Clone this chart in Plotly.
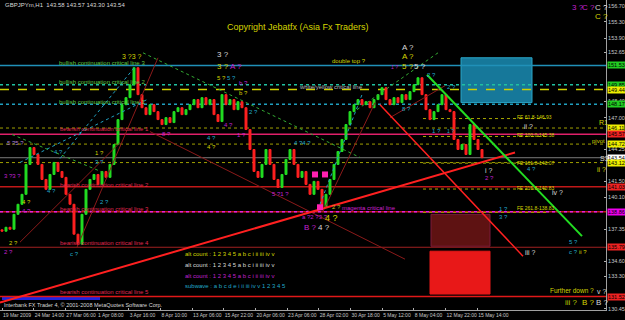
import plotly.graph_objects as go

# ---------------- data ----------------
first_open = 137.30
closes = [137.18, 137.52, 137.35, 138.64, 139.51, 140.37, 142.96, 144.42, 143.82, 142.96,
          141.66, 140.80, 142.09, 143.13, 142.35, 141.84, 140.37, 139.51, 136.92, 136.05,
          138.64, 140.80, 141.66, 142.09, 141.23, 142.35, 141.84, 142.96, 144.68, 146.84,
          148.13, 148.74, 149.86, 151.33, 149.00, 147.87, 147.27, 148.13, 147.53, 146.84,
          146.41, 147.01, 146.58, 147.53, 147.87, 147.27, 147.70, 148.13, 148.57, 147.87,
          148.74, 148.13, 148.57, 147.27, 146.67, 149.00, 148.13, 148.57, 147.70, 148.39,
          147.87, 145.98, 144.25, 142.35, 141.84, 142.96, 144.25, 142.96, 141.66, 140.97,
          142.09, 143.39, 144.25, 142.96, 141.84, 142.35, 141.23, 140.37, 141.49, 140.80,
          139.25, 140.37, 141.66, 142.96, 144.08, 145.12, 146.41, 147.53, 148.13, 148.57,
          148.13, 148.39, 147.87, 148.57, 149.00, 149.60, 148.57, 148.13, 148.74, 148.31,
          149.00, 148.57, 149.26, 149.86, 150.46, 149.00, 147.70, 146.84, 147.53, 148.13,
          149.00, 147.70, 147.53, 145.12, 144.25, 144.68, 143.82, 146.41, 145.12, 144.25,
          143.54]

date_tick_pos = [0, 7.92, 15.84, 23.76, 31.68, 39.6, 47.52, 55.44, 63.36, 71.28,
                 79.2, 87.12, 95.04, 102.96, 110.88, 118.8]
date_labels = ["19 Mar 2009", "24 Mar 14:00", "27 Mar 06:00", "1 Apr 08:00", "3 Apr 16:00",
               "8 Apr 10:00", "13 Apr 06:00", "15 Apr 22:00", "20 Apr 06:00", "23 Apr 06:00",
               "28 Apr 02:00", "30 Apr 18:00", "5 May 12:00", "8 May 04:00", "12 May 22:00",
               "15 May 14:00"]
price_ticks = [156.70, 155.30, 153.90, 152.65, 148.40, 147.00, 144.25, 141.50,
               140.10, 137.35, 134.60, 133.30, 130.45]

bull_levels = [151.53, 149.85, 148.17]
yellow_dash_level = 149.44
pivot_levels = [146.11, 144.72, 143.12]
current_price = 143.54
bear_levels = [145.57, 141.03, 138.86, 135.79, 131.52]
fe_levels = [146.93, 145.38, 143.07, 140.83, 138.81]
fe_names = ["FE 61.8-146.93", "FE 100.0-145.38", "FE 161.8-143.07", "FE 216.8-140.83", "FE 261.8-138.81"]
fe_span = [105.25, 136.5]

# trend lines: (x0, p0, x1, p1)
red_thick_line = [-0.5, 131.00, 128.25, 143.99]
red_down_line = [94.5, 148.13, 130.25, 135.02]
green_down_line = [106.25, 150.72, 145.0, 136.75]
darkred_lines = [[37.0, 145.80, 100.75, 134.76], [80.25, 138.90, 93.25, 148.31],
                 [18.75, 135.80, 39.0, 152.19], [4.5, 136.23, 29.5, 144.85],
                 [97.0, 147.01, 110.75, 149.77]]
green_dotted_lines = [[35.25, 152.62, 89.5, 143.56], [88.75, 147.70, 109.0, 152.62],
                      [2.5, 145.55, 25.25, 142.27]]
teal_dotted_lines = [[79.5, 139.51, 90.0, 149.00], [4.5, 143.13, 36.25, 148.57],
                     [14.5, 143.47, 33.25, 151.41]]

# zones: (x0, x1, p_low, p_high)
blue_zone = [114.75, 132.5, 148.31, 152.19]
darkred_zone = [107.25, 122.0, 135.88, 138.64]
red_zone = [107.0, 122.0, 131.74, 135.45]
blue_bar = [0.0, 24.5, 131.22, 131.48]
pink_x = [78.25, 80.75, 79.5]
pink_p = [142.09, 142.09, 139.25]

right_labels = [(151.53, "151.53", "#22cc22"), (149.85, "149.85", "#22cc22"),
                (149.44, "149.44", "#eeee00"), (148.17, "148.17", "#22cc22"),
                (146.11, "146.11", "#eeee00"), (145.57, "145.57", "#ee2222"),
                (144.72, "144.72", "#eeee00"), (143.54, "143.54", "#ffffff"),
                (143.12, "143.12", "#eeee00"), (141.03, "141.03", "#ee2222"),
                (138.86, "138.86", "#ee00ee"), (135.79, "135.79", "#ee2222"),
                (131.52, "131.52", "#ee2222")]

# ---------------- figure ----------------
FONT = "Liberation Sans, Arial, sans-serif"
X0, X1 = -0.5, 151.0
Y0, Y1 = 130.36, 157.19
PW, PH = 606.0, 310.0

fig = go.Figure()
shapes = []

def hline(p, color, dash="solid", width=1.0, x0=X0, x1=X1):
    shapes.append(dict(type="line", xref="x", yref="y", x0=x0, x1=x1, y0=p, y1=p,
                       line=dict(color=color, width=width, dash=dash), layer="below"))

def rect(z, fill, line="rgba(0,0,0,0)"):
    shapes.append(dict(type="rect", xref="x", yref="y", x0=z[0], x1=z[1], y0=z[2], y1=z[3],
                       fillcolor=fill, line=dict(color=line, width=1), layer="below"))

rect(blue_zone, "#16789a", "#2aa6c8")
rect(darkred_zone, "#5e1212", "#7a1a3a")
rect(red_zone, "#e81818", "#e81818")
rect(blue_bar, "#2222dd")

hline(bull_levels[0], "#2090b8", "solid", 1.5)
hline(bull_levels[1], "#20c0a0", "dot", 1.5)
hline(yellow_dash_level, "#d0d000", "dash", 1.5)
hline(bull_levels[2], "#20a0c0", "dot", 1.5)
for p in pivot_levels:
    hline(p, "#a0a000", "dot", 1)
hline(current_price, "#7a7a7a", "solid", 1)
hline(bear_levels[0], "#e0206a", "solid", 1.5)
hline(bear_levels[1], "#c01818", "solid", 1.5)
hline(bear_levels[2], "#c01818", "solid", 1.5)
hline(bear_levels[2], "#e020e0", "dot", 1.5)
hline(bear_levels[3], "#a02020", "solid", 1)
hline(bear_levels[4], "#e01818", "solid", 1.5)
for p in fe_levels:
    hline(p, "#a8a800", "dot", 1, fe_span[0], fe_span[1])

def seg(l, color, width=1, dash="solid"):
    fig.add_trace(go.Scatter(x=[l[0], l[2]], y=[l[1], l[3]], mode="lines",
                             line=dict(color=color, width=width, dash=dash), hoverinfo="skip"))

for l in darkred_lines:
    seg(l, "#8b1a1a", 1)
for l in green_dotted_lines:
    seg(l, "#33aa33", 1, "dot")
for l in teal_dotted_lines:
    seg(l, "#20a0c0", 1, "dot")

opens = [first_open] + closes[:-1]
highs = [max(o, c) for o, c in zip(opens, closes)]
lows = [min(o, c) for o, c in zip(opens, closes)]
fig.add_trace(go.Candlestick(x=list(range(len(closes))), open=opens, high=highs, low=lows, close=closes,
                             increasing=dict(line=dict(color="#22dd22", width=1), fillcolor="#22dd22"),
                             decreasing=dict(line=dict(color="#ff2020", width=1), fillcolor="#ff2020"),
                             whiskerwidth=0, hoverinfo="skip"))

seg(red_thick_line, "#ff2020", 2)
seg(red_down_line, "#ff2020", 1.5)
seg(green_down_line, "#22dd22", 2)

fig.add_trace(go.Scatter(x=pink_x, y=pink_p, mode="markers",
                         marker=dict(symbol="square", size=6, color="#ff20b0"), hoverinfo="skip"))

annotations = []

def lab(text, xpx, ypx, color, size=6):
    annotations.append(dict(text=text, x=xpx / PW, y=1 - ypx / PH, xref="paper", yref="paper",
                            xanchor="left", yanchor="middle", showarrow=False,
                            font=dict(family=FONT, size=size, color=color)))

Y = "#d4d400"; W = "#d8d8d8"; M = "#c020d0"; T = "#20a8c8"; G = "#60c840"; R = "#e02850"

lab("GBPJPYm,H1  143.58 143.57 143.30 143.54", 3, 5, W, 6)
lab("Copyright Jebatfx (Asia Fx Traders)", 225, 27, Y, 9)
for i, ypx in enumerate([63, 82, 102]):
    lab("bullish continuation critical line %d" % (3 - i), 57, ypx, G, 6)
for i, ypx in enumerate([129, 185, 209, 243, 292]):
    lab("bearish continuation critical line %d" % (i + 1), 58, ypx, R, 6)
lab("white/yellow critical line", 297, 87, "#b8b8b8", 6)
lab("double top ?", 330, 61, Y, 6)
lab("magenta critical line", 340, 208, "#d020d0", 6)
for name, ypx in zip(fe_names, [117, 135, 163, 188, 208]):
    lab(name, 515, ypx, Y, 5)
lab("R1", 597, 123, Y, 7)
lab("pivot", 590, 141, Y, 6)
lab("S3", 598, 158, W, 7)

waves = [("3 ?3 ?", 120, 57, Y, 7), ("3 ?", 215, 54, W, 8), ("3 ?", 215, 66, Y, 8), ("A ?", 228, 66, M, 8),
         ("5 ?", 215, 78, Y, 6), ("5 ?", 225, 78, T, 6), ("b ?", 237, 83, M, 6), ("b ?", 237, 93, Y, 6),
         ("A ?", 400, 47, W, 8), ("A ?", 400, 57, Y, 8), ("5 ?", 400, 67, Y, 8), ("5 ?", 412, 67, W, 8),
         ("1 ?", 389, 67, M, 5), ("2 ?", 425, 75, T, 6), ("2 ?", 445, 87, T, 6),
         ("3 ?", 570, 7, M, 8), ("C ?", 580, 7, M, 8), ("C ?", 593, 7, W, 8), ("C ?", 593, 17, Y, 8),
         ("8 ?", 400, 109, T, 6), ("1 ?", 430, 131, T, 6), ("1 ?", 445, 131, T, 5),
         ("ii ?", 522, 126, W, 7), ("4 ?", 525, 169, T, 6), ("i ?", 483, 170, W, 7), ("2 ?", 483, 178, M, 6),
         ("ii ?", 595, 169, Y, 7), ("iv ?", 550, 192, W, 7), ("1 ?", 497, 209, T, 6), ("3 ?", 497, 217, T, 6),
         ("iii ?", 523, 252, W, 7), ("5 ?", 567, 242, T, 6), ("c ?", 567, 252, T, 6), ("ii ?", 577, 252, Y, 6),
         ("Further down ?", 548, 290, Y, 6.5), ("v ?", 595, 291, W, 7),
         ("iii ?", 563, 302, "#b8c800", 8), ("B ?", 580, 302, Y, 8), ("B ?", 594, 302, W, 8),
         ("5 ?5 ?", 5, 143, "#b080d0", 6), ("4 ?", 52, 152, T, 6), ("4 ?", 45, 191, T, 6),
         ("1 ?", 93, 153, Y, 6), ("3 ?", 93, 162, T, 6), ("3 ?3 ?", 2, 176, M, 6),
         ("4 ?", 20, 202, Y, 6), ("4 ?", 20, 211, M, 6), ("2 ?", 7, 243, Y, 6), ("2 ?", 2, 252, M, 6),
         ("c ?", 68, 254, T, 6), ("2 ?", 98, 202, T, 6), ("8 ?", 160, 134, M, 6),
         ("4 ?", 205, 138, T, 6), ("4 ?", 205, 147, Y, 6), ("4 ?", 222, 125, M, 6), ("1 ?", 235, 135, M, 6),
         ("2 ?", 247, 112, T, 6), ("4 ?4 ?", 292, 143, T, 6), ("5 ?1 ?", 270, 194, M, 6),
         ("a ?2 ?3 ?", 300, 217, M, 6), ("4 ?", 323, 218, Y, 9), ("B ?", 302, 227, M, 8),
         ("4 ?", 316, 227, W, 8), ("2 ?", 330, 207, "#c0c020", 6)]
for w in waves:
    lab(*w)

lab("alt count : 1 2 3 4 5 a b c i ii iii iv v", 183, 254, Y, 6)
lab("alt count : 1 2 3 4 5 a b c i ii iii iv v", 183, 265, W, 6)
lab("alt count : 1 2 3 4 5 a b c i ii iii iv v", 183, 276, M, 6)
lab("subwave : a b c d e i ii iii iv v 1 2 3 4 5", 183, 286, T, 6)
lab("Interbank FX Trader 4, © 2001-2008 MetaQuotes Software Corp.", 2, 305, W, 5.5)

for p, t, c in right_labels:
    annotations.append(dict(text=t, x=1, xref="paper", y=p, yref="y", xanchor="left", yanchor="middle",
                            xshift=1, showarrow=False, bgcolor=c, borderpad=0,
                            font=dict(family=FONT, size=5.5, color="#000000")))

fig.update_layout(
    width=625, height=320, margin=dict(l=0, r=19, t=0, b=10),
    paper_bgcolor="#000000", plot_bgcolor="#000000", showlegend=False,
    shapes=shapes, annotations=annotations,
    font=dict(family=FONT, size=6, color="#c8c8c8"),
    xaxis=dict(range=[X0, X1], showgrid=False, zeroline=False, tickmode="array",
               tickvals=date_tick_pos, ticktext=date_labels, ticklabelposition="outside right",
               tickangle=0, ticks="inside", ticklen=2, tickcolor="#b0b0b0",
               tickfont=dict(size=5, color="#c8c8c8"), ticklabelstandoff=0,
               showline=True, linecolor="#a0a0a0", rangeslider=dict(visible=False), automargin=False),
    yaxis=dict(range=[Y0, Y1], side="right", showgrid=False, zeroline=False, tickmode="array",
               tickvals=price_ticks, ticktext=["%.2f" % v for v in price_ticks],
               ticks="inside", ticklen=2, tickcolor="#b0b0b0", tickfont=dict(size=5.5, color="#c8c8c8"),
               ticklabelstandoff=0,
               showline=True, linecolor="#a0a0a0", automargin=False),
)

fig.write_html("out.html")
